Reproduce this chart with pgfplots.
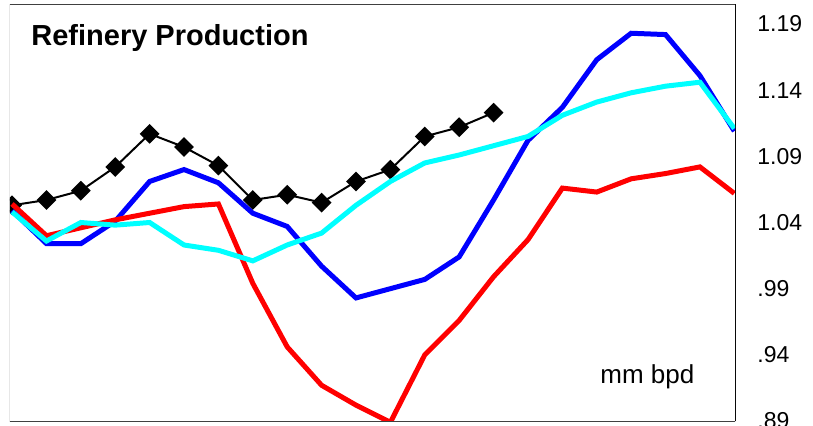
\documentclass[border=0pt]{standalone}
\usepackage{pgfplots}
\pgfplotsset{compat=1.18}
\usepackage{fontspec}
\setmainfont{Liberation Sans}
\definecolor{xlcyan}{RGB}{0,255,255}
\definecolor{xlblue}{RGB}{0,0,255}
\definecolor{xlred}{RGB}{255,0,0}

\begin{document}
\begin{tikzpicture}
  \begin{axis}[
      scale only axis,
      width=362.5pt, height=208.5pt,
      xmin=-0.06, xmax=21.02,
      ymin=0.89, ymax=1.2051,
      axis y line*=right,
      axis x line*=bottom,
      hide x axis,
      xtick=\empty,
      ytick={0.89,0.94,0.99,1.04,1.09,1.14,1.19},
      yticklabels={.89,.94,.99,1.04,1.09,1.14,1.19},
      major tick length=0pt,
      yticklabel style={font=\fontsize{11.5pt}{13pt}\selectfont, anchor=west, inner sep=0pt, xshift=11pt},
      /pgf/number format/assume math mode=true,
      clip=true,
      clip marker paths=true,
      every axis plot/.append style={line join=miter},
    ]
    \coordinate (bl) at (rel axis cs:0,0);
    \coordinate (tr) at (rel axis cs:1,1);

    % black series with diamonds
    \addplot [black, line width=1pt, mark=square*, mark size=3pt,
              mark options={rotate=45, solid, fill=black}] coordinates {
      (0,1.053) (1,1.057) (2,1.064) (3,1.082) (4,1.107) (5,1.097) (6,1.083)
      (7,1.057) (8,1.061) (9,1.055) (10,1.071) (11,1.080) (12,1.105)
      (13,1.112) (14,1.123)
    };
    % blue
    \addplot [xlblue, line width=2.5pt, mark=none] coordinates {
      (0,1.049) (1,1.024) (2,1.024) (3,1.041) (4,1.071) (5,1.080) (6,1.070)
      (7,1.047) (8,1.037) (9,1.007) (10,0.983) (11,0.990) (12,0.997)
      (13,1.014) (14,1.057) (15,1.102) (16,1.127) (17,1.163) (18,1.183)
      (19,1.182) (20,1.151) (21,1.109)
    };
    % red
    \addplot [xlred, line width=2.5pt, mark=none] coordinates {
      (0,1.054) (1,1.030) (2,1.036) (3,1.042) (4,1.047) (5,1.052) (6,1.054)
      (7,0.994) (8,0.946) (9,0.917) (10,0.902) (11,0.889) (12,0.940)
      (13,0.966) (14,0.999) (15,1.027) (16,1.066) (17,1.063) (18,1.073)
      (19,1.077) (20,1.082) (21,1.062)
    };
    % cyan
    \addplot [xlcyan, line width=2.5pt, mark=none] coordinates {
      (0,1.048) (1,1.026) (2,1.040) (3,1.038) (4,1.040) (5,1.023) (6,1.019)
      (7,1.011) (8,1.023) (9,1.032) (10,1.053) (11,1.071) (12,1.085)
      (13,1.091) (14,1.098) (15,1.105) (16,1.121) (17,1.131) (18,1.138)
      (19,1.143) (20,1.146) (21,1.111)
    };

    \draw[black!75, line width=0.5pt] (rel axis cs:0,0) rectangle (rel axis cs:1,1);
    \node[anchor=base west, inner sep=0pt, font=\bfseries\fontsize{14.5pt}{17pt}\selectfont]
      at ([xshift=10.5pt, yshift=-20.5pt]rel axis cs:0,1) {Refinery Production};
    \node[anchor=base west, inner sep=0pt, font=\fontsize{13pt}{15pt}\selectfont]
      at ([xshift=295pt, yshift=19pt]rel axis cs:0,0) {mm bpd};
  \end{axis}
  \pgfresetboundingbox
  \path[use as bounding box] ([shift={(-5pt,-2pt)}]bl) rectangle ([shift={(39pt,2pt)}]tr);
\end{tikzpicture}
\end{document}
